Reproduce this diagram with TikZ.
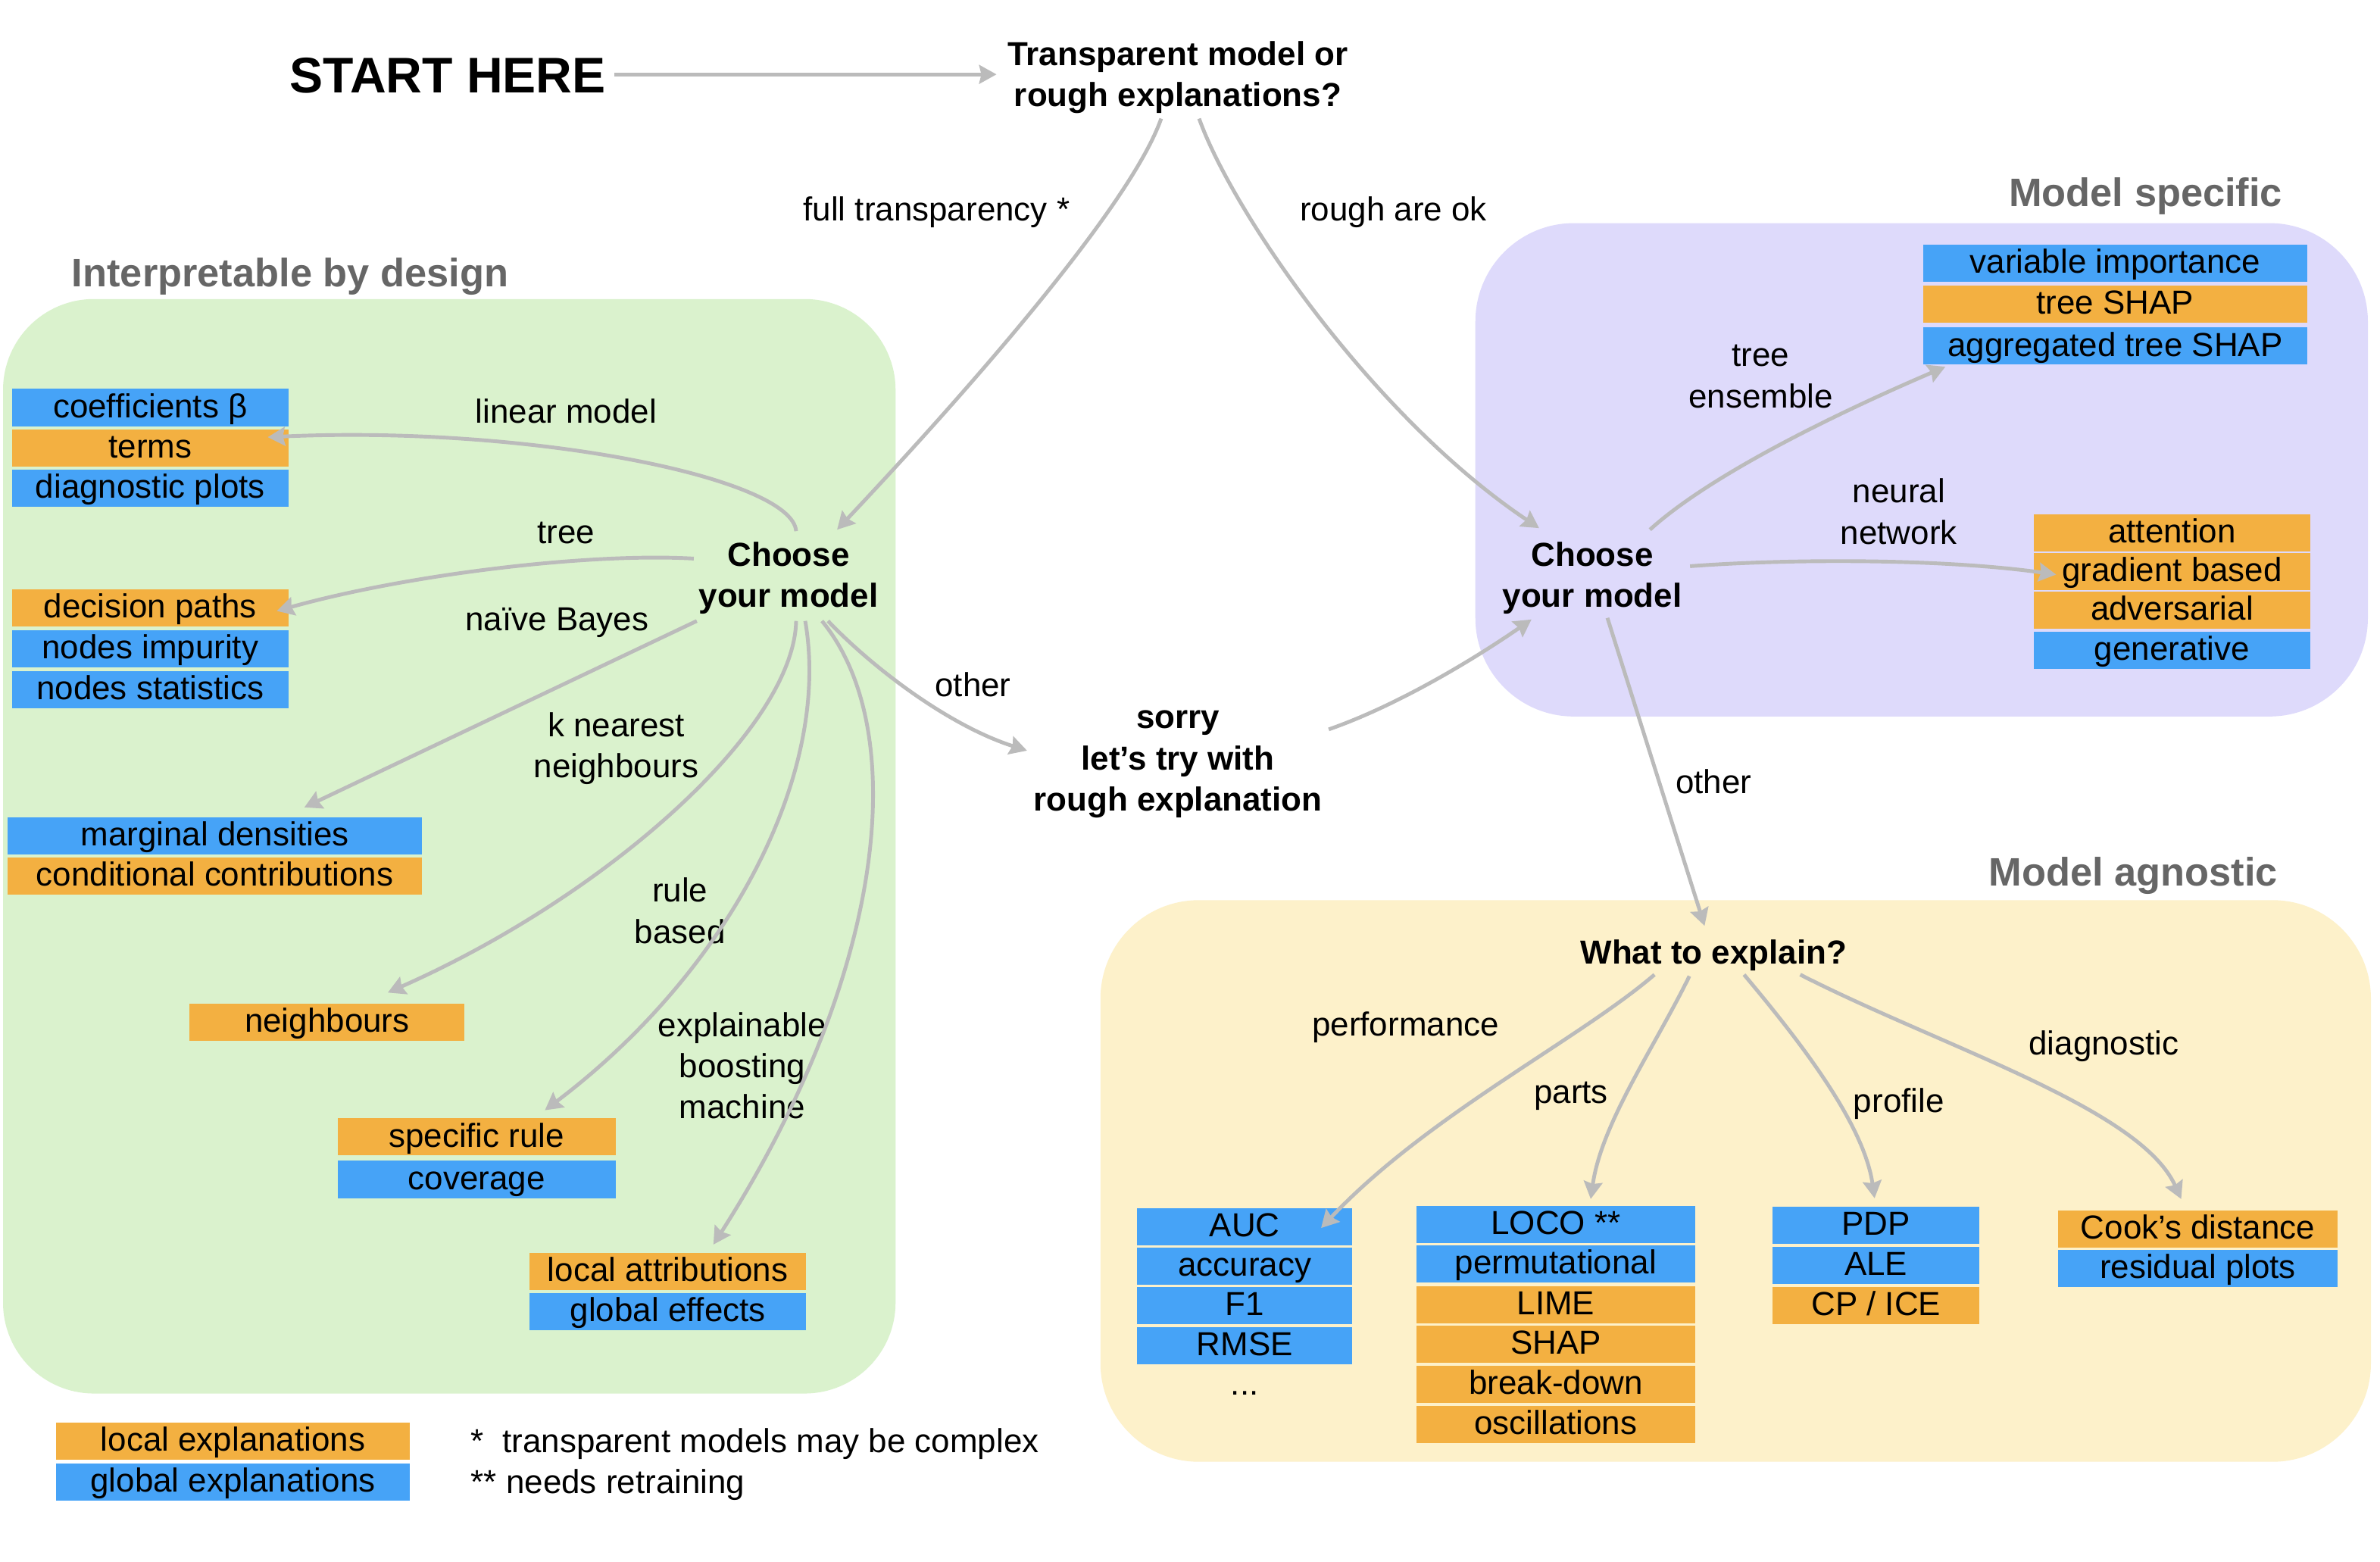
\documentclass[tikz,border=0pt]{standalone}
\usepackage{fontspec}
\setmainfont{Liberation Sans}
\usetikzlibrary{arrows.meta,calc}
\definecolor{boxblue}{HTML}{46A3F7}
\definecolor{boxorange}{HTML}{F3B041}
\definecolor{bggreen}{HTML}{DAF2CD}
\definecolor{bgpurple}{HTML}{DEDAFB}
\definecolor{bgyellow}{HTML}{FDF1CA}
\definecolor{arrowgray}{HTML}{BBBBBB}
\definecolor{titlegray}{HTML}{666666}
\begin{document}
\begin{tikzpicture}[x=0.02004cm,y=-0.02004cm,
  lbl/.style={inner sep=0pt, align=center, font=\fontsize{12.5}{15.4}\selectfont},
  qst/.style={inner sep=0pt, align=center, font=\fontsize{12.5}{15.4}\selectfont\bfseries},
  ttl/.style={inner sep=0pt, text=titlegray, font=\fontsize{14.9}{18}\selectfont\bfseries},
  bx/.style={inner sep=0pt, minimum height=0.491cm, text height=10.2pt, text depth=2.7pt, font=\fontsize{12.5}{15.4}\selectfont},
  bxb/.style={bx, fill=boxblue},
  bxo/.style={bx, fill=boxorange},
  bw/.style={minimum width=#1*0.02004cm},
  arr/.style={draw=arrowgray, line width=1.4pt, -{Stealth[length=6.5pt,width=7pt,inset=0.8pt]}}
]
\useasboundingbox (0,0) rectangle (1568,1029);
\fill[white] (0,0) rectangle (1568,1029);
% backgrounds
\fill[bggreen, rounded corners=1.2cm] (2,197) rectangle (590,918);
\fill[bgpurple, rounded corners=1.3cm] (972,147) rectangle (1560,472);
\fill[bgyellow, rounded corners=1.3cm] (725,593) rectangle (1562,963);
% titles
\node[ttl, anchor=west] (idt) at (47,182) {Interpretable by design};
\node[ttl, anchor=east] (msp) at (1504,129) {Model specific};
\node[ttl, anchor=east] (mag) at (1501,577) {Model agnostic};
% main question nodes
\node[inner sep=0pt, font=\fontsize{18.8}{22}\selectfont\bfseries] (start) at (295,50) {START HERE};
\node[qst] (q1) at (776,51) {Transparent model or\\rough explanations?};
\node[qst] (ch1) at (519.5,381) {Choose\\your model};
\node[qst] (ch2) at (1049,381) {Choose\\your model};
\node[qst] (sorry) at (776,503.5) {sorry\\let’s try with\\rough explanation};
\node[qst] (wte) at (1129,629.5) {What to explain?};
% labels
\node[lbl] (ft) at (617,140) {full transparency *};
\node[lbl] (ro) at (918,140) {rough are ok};
\node[lbl] (lm) at (373,271) {linear model};
\node[lbl] (tr) at (373,351) {tree};
\node[lbl] (nbay) at (367,410) {naïve Bayes};
\node[lbl] (knn) at (406,493) {k nearest\\neighbours};
\node[lbl] (rb) at (448,600) {rule\\based};
\node[lbl] (ebm) at (489,702) {explainable\\boosting\\machine};
\node[lbl] (oth1) at (641,451) {other};
\node[lbl] (te) at (1160,248) {tree\\ensemble};
\node[lbl] (nn) at (1251,337) {neural\\network};
\node[lbl] (oth2) at (1129,515) {other};
\node[lbl] (perf) at (926,677) {performance};
\node[lbl] (parts) at (1035,722) {parts};
\node[lbl] (prof) at (1251,727) {profile};
\node[lbl] (diagn) at (1386,689) {diagnostic};
% green boxes
\node[bxb, bw=182] (cb) at (99,268.5) {coefficients β};
\node[bxo, bw=182] (terms) at (99,295) {terms};
\node[bxb, bw=182] (diag) at (99,321.5) {diagnostic plots};
\node[bxo, bw=182] (dp) at (99,400.5) {decision paths};
\node[bxb, bw=182] (ni) at (99,427.5) {nodes impurity};
\node[bxb, bw=182] (ns) at (99,454.5) {nodes statistics};
\node[bxb, bw=273] (md) at (141.5,550.5) {marginal densities};
\node[bxo, bw=273] (cc) at (141.5,577) {conditional contributions};
\node[bxo, bw=181] (nb) at (215.5,673.5) {neighbours};
\node[bxo, bw=183] (sr) at (314,749) {specific rule};
\node[bxb, bw=183] (cov) at (314,777) {coverage};
\node[bxo, bw=182] (la) at (440,837.5) {local attributions};
\node[bxb, bw=182] (ge) at (440,864) {global effects};
% legend
\node[bxo, bw=233] (le) at (153.5,949.5) {local explanations};
\node[bxb, bw=233] (gex) at (153.5,976.5) {global explanations};
\node[lbl, anchor=west, align=left] (fn1) at (310,951) {*\ \ transparent models may be complex};
\node[lbl, anchor=west, align=left] (fn2) at (310,978) {** needs retraining};
% purple boxes
\node[bxb, bw=253] (vi) at (1393.5,173.5) {variable importance};
\node[bxo, bw=253] (ts) at (1393.5,200.5) {tree SHAP};
\node[bxb, bw=253] (ats) at (1393.5,228) {aggregated tree SHAP};
\node[bxo, bw=182] (att) at (1431,351) {attention};
\node[bxo, bw=182] (gb) at (1431,376.5) {gradient based};
\node[bxo, bw=182] (adv) at (1431,402) {adversarial};
\node[bxb, bw=182] (gen) at (1431,428.5) {generative};
% yellow boxes
\node[bxb, bw=142] (auc) at (820,808) {AUC};
\node[bxb, bw=142] (acc) at (820,834) {accuracy};
\node[bxb, bw=142] (f1) at (820,860) {F1};
\node[bxb, bw=142] (rmse) at (820,886.5) {RMSE};
\node[lbl] (dots) at (820,918) {...};
\node[bxb, bw=184] (loco) at (1025,806.5) {LOCO **};
\node[bxb, bw=184] (perm) at (1025,832.5) {permutational};
\node[bxo, bw=184] (lime) at (1025,859.5) {LIME};
\node[bxo, bw=184] (shap) at (1025,885.5) {SHAP};
\node[bxo, bw=184] (bd) at (1025,912) {break-down};
\node[bxo, bw=184] (osc) at (1025,938.5) {oscillations};
\node[bxb, bw=136] (pdp) at (1236,807) {PDP};
\node[bxb, bw=136] (ale) at (1236,833.5) {ALE};
\node[bxo, bw=136] (cpice) at (1236,860) {CP / ICE};
\node[bxo, bw=184] (cook) at (1448,809.5) {Cook’s distance};
\node[bxb, bw=184] (resid) at (1448,835.7) {residual plots};
% connectors
\draw[arr] ($(start.east)+(5,-1)$) -- ($(start.east -| q1.west)+(-7,-1)$);
\draw[arr] ($(q1.south)+(-11,3)$) .. controls (745,135) and (640,255) .. ($(ch1.north)+(32,-8)$);
\draw[arr] ($(q1.south)+(14,3)$) .. controls (812,140) and (905,275) .. ($(ch2.north)+(-35,-9)$);
\draw[arr] ($(ch1.north)+(5,-7)$) .. controls (522,315) and (350,280) .. ($(terms.east)+(-14,-7)$);
\draw[arr] ($(ch1.west)+(-3,-13)$) .. controls (390,364) and (270,378) .. ($(dp.east)+(-8,2)$);
\draw[arr] ($(ch1.south west)+(-1,4)$) -- ($(md.north)+(59,-6)$);
\draw[arr] ($(ch1.south)+(5,4)$) .. controls (523,480) and (400,590) .. ($(nb.north)+(40,-7)$);
\draw[arr] ($(ch1.south)+(11,4)$) .. controls (548,510) and (480,640) .. ($(sr.north)+(45,-5)$);
\draw[arr] ($(ch1.south)+(22,4)$) .. controls (600,480) and (585,640) .. ($(la.north)+(30,-5)$);
\draw[arr] ($(ch1.south)+(26,4)$) .. controls (575,440) and (625,478) .. ($(sorry.west)+(-4,-9)$);
\draw[arr] ($(sorry.east)+(4,-23)$) .. controls (920,465) and (970,435) .. ($(ch2.south)+(-40,3)$);
\draw[arr] ($(ch2.north)+(38,-8)$) .. controls (1130,310) and (1220,268) .. ($(ats.south west)+(15,1)$);
\draw[arr] ($(ch2.east)+(5,-8)$) .. controls (1180,368) and (1280,368) .. ($(gb.west)+(15,2)$);
\draw[arr] ($(ch2.south)+(10,2)$) -- ($(wte.north)+(-6,-9)$);
\draw[arr] ($(wte.south)+(-39,2)$) .. controls (1040,685) and (940,735) .. ($(auc.east)+(-21,1)$);
\draw[arr] ($(wte.south)+(-16,3)$) .. controls (1090,690) and (1055,740) .. ($(loco.north)+(23,-4)$);
\draw[arr] ($(wte.south)+(20,2)$) .. controls (1185,685) and (1228,740) .. ($(pdp.north)+(-1,-5)$);
\draw[arr] ($(wte.south)+(57,2)$) .. controls (1280,690) and (1410,730) .. ($(cook.north)+(-11,-7)$);
\end{tikzpicture}
\end{document}
